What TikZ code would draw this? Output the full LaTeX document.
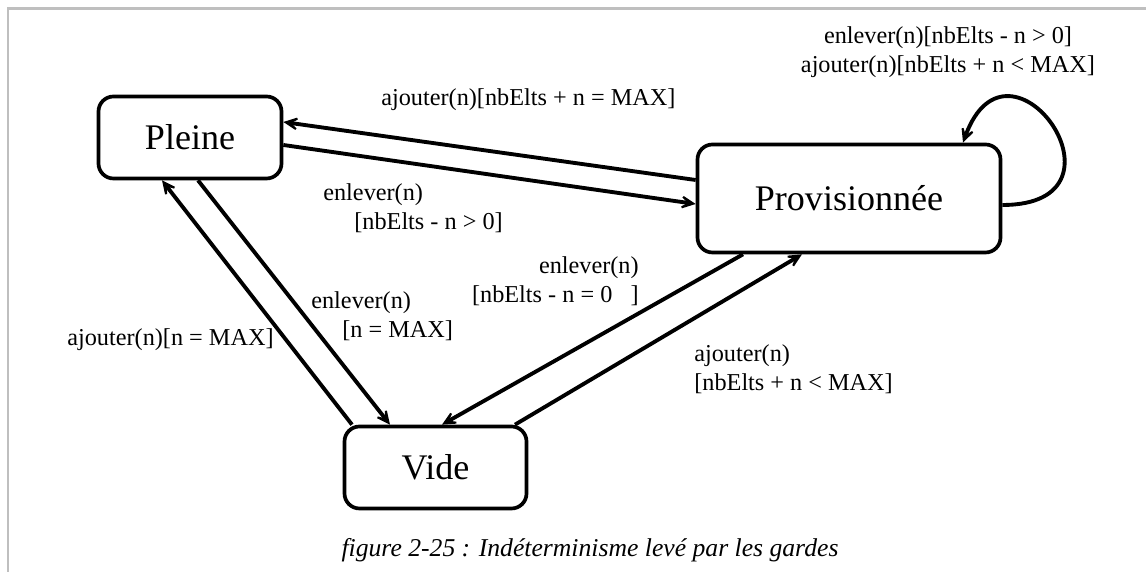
\documentclass[tikz,border=0pt]{standalone}
\usepackage{fontspec}
\setmainfont{Liberation Serif}
\usepackage{tikz}
\usetikzlibrary{arrows.meta}

\begin{document}
\begin{tikzpicture}[
    state/.style={draw, line width=2.1pt, rounded corners=0.3cm, minimum height=1.64cm, font=\fontsize{20.5}{24}\selectfont},
    trans/.style={-{Stealth[length=0.44cm, width=0.42cm, inset=0.28cm]}, line width=2.2pt},
    guard/.style={inner sep=0pt, font=\fontsize{13.8}{16.5}\selectfont}
]
    \useasboundingbox (0,0) rectangle (22.92,11.44);
    % Page frame
    \draw[gray!50, line width=1.2pt] (0.154,0) -- (0.154,11.27) -- (22.92,11.27);

    % States
    \node[state, minimum width=3.66cm] (pleine) at (3.80,8.69) {Pleine};
    \node[state, minimum width=6.06cm, minimum height=2.16cm] (prov) at (16.98,7.47) {Provisionnée};
    \node[state, minimum width=3.64cm] (vide) at (8.71,2.09) {Vide};

    % Pleine <-> Provisionnee
    \draw[trans] ([yshift=0.37cm]prov.west) -- ([yshift=0.31cm]pleine.east);
    \draw[trans] ([yshift=-0.15cm]pleine.east) -- ([yshift=-0.11cm]prov.west);
    \node[guard, anchor=west] (ajoutmax) at (7.62,9.44) {ajouter(n)[nbElts + n = MAX]};
    \node[guard, anchor=west, align=left] (enlevprov) at (6.46,7.28) {enlever(n)\\\hspace*{0.62cm}[nbElts - n > 0]};

    % Pleine <-> Vide
    \draw[trans] ([xshift=-1.67cm]vide.north) -- ([xshift=-0.56cm]pleine.south);
    \draw[trans] ([xshift=0.16cm]pleine.south) -- ([xshift=-0.91cm]vide.north);
    \node[guard, anchor=west] (ajoutvide) at (1.34,4.64) {ajouter(n)[n = MAX]};
    \node[guard, anchor=west, align=left] (enlevmax) at (6.22,5.12) {enlever(n)\\\hspace*{0.62cm}[n = MAX]};

    % Provisionnee <-> Vide
    \draw[trans] ([xshift=-2.12cm]prov.south) -- ([xshift=0.13cm]vide.north);
    \draw[trans] ([xshift=1.59cm]vide.north) -- ([xshift=-0.94cm]prov.south);
    \node[guard, anchor=east, align=right] (enlevzero) at (12.78,5.82) {enlever(n)\\{}[nbElts - n = 0~~~]};
    \node[guard, anchor=west, align=left] (ajoutprov) at (13.88,4.06) {ajouter(n)\\{}[nbElts + n < MAX]};

    % Self loop on Provisionnee
    \draw[trans] ([yshift=-0.13cm]prov.east) .. controls +(2.8,0) and +(0.92,2.54) .. ([xshift=2.28cm]prov.north);
    \node[guard, align=center] (boucle) at (18.96,10.39) {enlever(n)[nbElts - n > 0]\\ajouter(n)[nbElts + n < MAX]};

    % Caption
    \node[font=\fontsize{14.6}{17}\selectfont\itshape] (legende) at (11.8,0.44) {figure 2-25 : Indéterminisme levé par les gardes};
\end{tikzpicture}
\end{document}
